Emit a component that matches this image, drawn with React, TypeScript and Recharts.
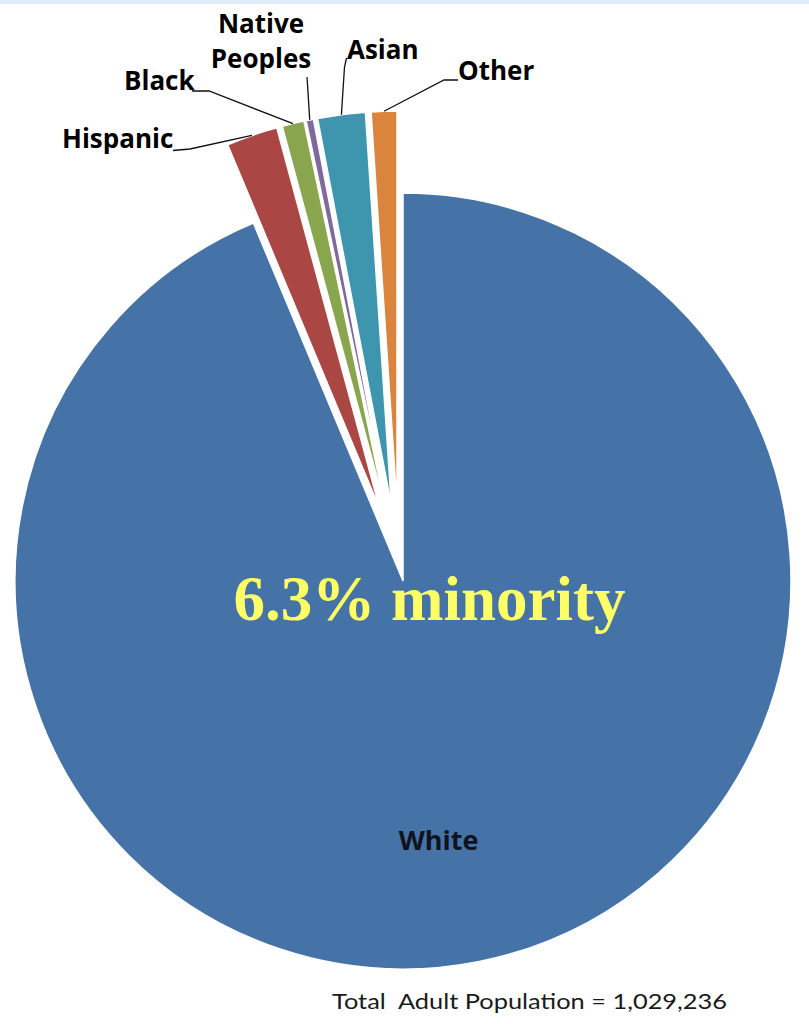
import React from 'react';
import { PieChart, Pie, Cell } from 'recharts';

// ---- data ----
const categories = ['White', 'Hispanic', 'Black', 'Native Peoples', 'Asian', 'Other'];
const shares = [93.7, 2.1, 0.9, 0.3, 1.95, 1.05];
const colors = ['#4572A7', '#AA4643', '#89A54E', '#80699B', '#3D96AE', '#DB843D'];
const labelText = [['White'], ['Hispanic'], ['Black'], ['Native', 'Peoples'], ['Asian'], ['Other']];
const headline = '6.3% minority';
const footnote = 'Total  Adult Population = 1,029,236';

const data = categories.map((name, i) => ({ name, value: shares[i] }));
const total = shares.reduce((a, b) => a + b, 0);
// bisector of each slice, degrees clockwise from 12 o'clock
const midClock = shares.map(
  (v, i) => (360 * (shares.slice(0, i).reduce((a, b) => a + b, 0) + v / 2)) / total
);

// ---- layout ----
const W = 809;
const H = 1024;
const MAIN = { cx: 403, cy: 581, r: 388 };
const MINOR = { cx: 399, cy: 565, r: 394, explode: 60 };
const RAD = Math.PI / 180;
const LABEL_FONT = "'Open Sans', sans-serif";

type Layout = {
  tx: number;
  ty: number[];
  anchor: 'start' | 'middle' | 'end';
  line: number[][];
};
const labelLayout: Record<number, Layout> = {
  1: { tx: 62, ty: [148], anchor: 'start', line: [[173, 150.5], [190, 149]] },
  2: { tx: 124, ty: [90], anchor: 'start', line: [[192, 91], [209, 91]] },
  3: { tx: 261, ty: [33, 68], anchor: 'middle', line: [[307, 77]] },
  4: { tx: 347, ty: [59], anchor: 'start', line: [[346.5, 58], [344.5, 67]] },
  5: { tx: 458, ty: [80], anchor: 'start', line: [[458, 80], [444, 80]] },
};
const whiteLabel = { radius: 262, dx: -16, dy: 12 };

const minorLabel = (idx: number) => (p: any) => {
  if (p.index !== idx) return null;
  const ex = p.cx + p.outerRadius * Math.cos(-p.midAngle * RAD);
  const ey = p.cy + p.outerRadius * Math.sin(-p.midAngle * RAD);
  const L = labelLayout[idx];
  const pts = [...L.line, [ex, ey]].map((q) => q.join(',')).join(' ');
  return (
    <g>
      <polyline points={pts} fill="none" stroke="#111" strokeWidth={1.3} />
      {labelText[idx].map((t, k) => (
        <text
          key={k}
          x={L.tx}
          y={L.ty[k]}
          textAnchor={L.anchor}
          fontFamily={LABEL_FONT}
          fontWeight={700}
          fontSize={26}
          fill="#000"
        >
          {t}
        </text>
      ))}
    </g>
  );
};

const mainLabel = (p: any) => {
  if (p.index !== 0) return null;
  const x = p.cx + whiteLabel.radius * Math.cos(-p.midAngle * RAD) + whiteLabel.dx;
  const y = p.cy + whiteLabel.radius * Math.sin(-p.midAngle * RAD) + whiteLabel.dy;
  return (
    <text
      x={x}
      y={y}
      textAnchor="middle"
      fontFamily={LABEL_FONT}
      fontWeight={700}
      fontSize={27}
      fill="#10131c"
    >
      {labelText[0][0]}
    </text>
  );
};

export default function App() {
  return (
    <div style={{ position: 'absolute', left: 0, top: 0, width: W, height: H, background: '#fff' }}>
      <div style={{ position: 'absolute', left: 0, top: 0, width: W, height: 4, background: '#DFEBF9' }} />
      <PieChart width={W} height={H} margin={{ top: 0, right: 0, bottom: 0, left: 0 }}>
        <Pie
          data={data}
          dataKey="value"
          nameKey="name"
          cx={MAIN.cx}
          cy={MAIN.cy}
          outerRadius={MAIN.r}
          startAngle={90}
          endAngle={-270}
          isAnimationActive={false}
          label={mainLabel}
          labelLine={false}
        >
          {data.map((d, i) => (
            <Cell
              key={d.name}
              fill={i === 0 ? colors[i] : 'none'}
              stroke={i === 0 ? '#fff' : 'none'}
              strokeWidth={1.5}
            />
          ))}
        </Pie>
        {data.map((d, idx) =>
          idx === 0 ? null : (
            <Pie
              key={d.name}
              data={data}
              dataKey="value"
              nameKey="name"
              cx={MINOR.cx + MINOR.explode * Math.sin(midClock[idx] * RAD)}
              cy={MINOR.cy - MINOR.explode * Math.cos(midClock[idx] * RAD)}
              outerRadius={MINOR.r}
              startAngle={90}
              endAngle={-270}
              isAnimationActive={false}
              label={minorLabel(idx)}
              labelLine={false}
            >
              {data.map((e, i) => (
                <Cell
                  key={e.name}
                  fill={i === idx ? colors[i] : 'none'}
                  stroke={i === idx ? '#fff' : 'none'}
                  strokeWidth={1.5}
                />
              ))}
            </Pie>
          )
        )}
      </PieChart>
      <svg
        width={W}
        height={H}
        style={{ position: 'absolute', left: 0, top: 0, pointerEvents: 'none' }}
      >
        <text
          x={429.5}
          y={620}
          textAnchor="middle"
          fontFamily="'Liberation Serif', 'Times New Roman', serif"
          fontWeight={700}
          fontSize={63}
          fill="#FFFF66"
        >
          {headline}
        </text>
        <text
          x={332}
          y={1009}
          textAnchor="start"
          fontFamily="Lato, sans-serif"
          fontSize={21}
          fill="#1a1a1a"
          textLength={395}
          lengthAdjust="spacingAndGlyphs"
          style={{ whiteSpace: 'pre' }}
        >
          {footnote}
        </text>
      </svg>
    </div>
  );
}
